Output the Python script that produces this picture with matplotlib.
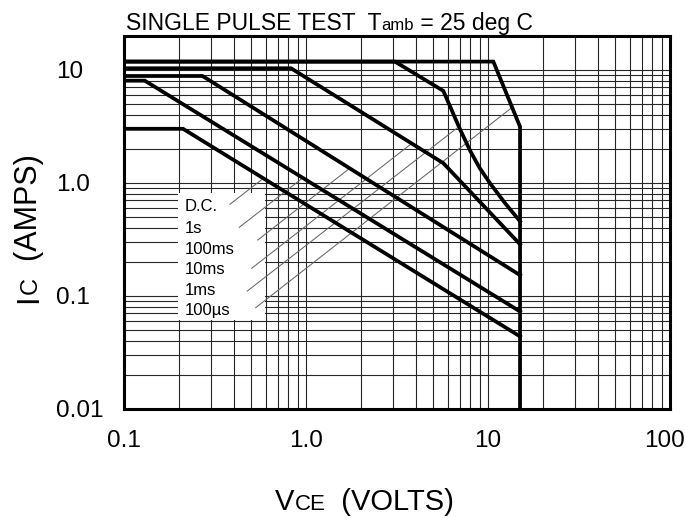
import matplotlib
matplotlib.use("Agg")
import matplotlib.pyplot as plt
from matplotlib import font_manager as fm
from matplotlib.patches import Rectangle
from matplotlib.ticker import NullFormatter
import matplotlib.transforms as mtrans

# ---------------- data ----------------
x_ticks = [0.1, 1, 10, 100]
x_tick_labels = ["0.1", "1.0", "10", "100"]
y_ticks = [0.01, 0.1, 1, 10]
y_tick_labels = ["0.01", "0.1", "1.0", "10"]

# safe operating area curves (VCE volts, IC amps)
us100_v = [0.1, 10.7, 15, 15]
us100_i = [11.8, 11.8, 3.13, 0.01]
ms1_v = [0.1, 3.08, 5.68, 6.1, 7.0, 8.0, 9.0, 10.3, 12.4, 15]
ms1_i = [11.8, 11.8, 6.5, 5.0, 3.0, 1.9, 1.35, 0.98, 0.66, 0.455]
ms10_v = [0.1, 0.827, 5.68, 15]
ms10_i = [10.3, 10.3, 1.49, 0.285]
ms100_v = [0.1, 0.27, 15]
ms100_i = [8.8, 8.8, 0.152]
s1_v = [0.1, 0.13, 15]
s1_i = [8.0, 8.0, 0.0725]
dc_v = [0.1, 0.211, 15]
dc_i = [3.0, 3.0, 0.0436]

curve_names = ["D.C.", "1s", "100ms", "10ms", "1ms", "100\u00b5s"]
label_y = [0.613, 0.395, 0.259, 0.1713, 0.1123, 0.0747]
label_x = 0.216
leader_start_x = [0.382, 0.430, 0.543, 0.503, 0.476, 0.529]
leader_start_y = [0.644, 0.403, 0.311, 0.1748, 0.110, 0.0783]
leader_end_x = [0.58, 0.952, 1.754, 3.815, 6.73, 13.5]
leader_end_y = [1.086, 1.092, 1.357, 2.23, 3.03, 4.61]
box_x = [0.199, 0.595]
box_y = [0.061, 0.806]

# ---------------- fonts ----------------
names = {f.name for f in fm.fontManager.ttflist}
BASE = "Liberation Sans" if "Liberation Sans" in names else "DejaVu Sans"

W, H = 685, 518
fig = plt.figure(figsize=(W / 100, H / 100), dpi=100)
ax = fig.add_axes([124 / W, 1 - 408.7 / H, 546 / W, (408.7 - 35.7) / H])
ax.set_xscale("log")
ax.set_yscale("log")
ax.set_xlim(0.1, 100)
ax.set_ylim(0.01, 20)

ax.set_axisbelow(True)
ax.grid(True, which="both", color="0.15", lw=0.8)
ax.tick_params(which="both", length=0)
ax.xaxis.set_minor_formatter(NullFormatter())
ax.yaxis.set_minor_formatter(NullFormatter())
ax.set_xticks(x_ticks, labels=x_tick_labels, fontsize=17.5, family=BASE)
ax.set_yticks(y_ticks, labels=y_tick_labels, fontsize=17.5, family=BASE)
ax.tick_params(axis="x", pad=15)
ax.tick_params(axis="y", pad=49)
for lab in ax.get_yticklabels():
    lab.set_ha("left")
xl = ax.get_xticklabels()
xl[-1].set_transform(xl[-1].get_transform() + mtrans.ScaledTranslation(-0.05, 0, fig.dpi_scale_trans))
for s in ax.spines.values():
    s.set_linewidth(2.2)
    s.set_zorder(6)

# white label box
ax.add_patch(Rectangle((box_x[0], box_y[0]), box_x[1] - box_x[0], box_y[1] - box_y[0],
                       facecolor="white", edgecolor="none", zorder=1))

curves = [(dc_v, dc_i), (s1_v, s1_i), (ms100_v, ms100_i), (ms10_v, ms10_i),
          (ms1_v, ms1_i), (us100_v, us100_i)]
for v, i in curves:
    ax.plot(v, i, color="black", lw=2.7, solid_joinstyle="miter", zorder=4)

for k, name in enumerate(curve_names):
    ax.text(label_x, label_y[k], name, fontsize=12, family=BASE, va="center", ha="left", zorder=3)
    ax.plot([leader_start_x[k], leader_end_x[k]], [leader_start_y[k], leader_end_y[k]],
            color="0.4", lw=0.75, zorder=2)


def chain(parts, x0, y0, rotation=0, family=BASE):
    prev = None
    for s, size in parts:
        if prev is None:
            prev = fig.text(x0 / W, y0 / H, s, fontsize=size, family=family, ha="left",
                            va="baseline", rotation=rotation, rotation_mode="anchor")
        else:
            if rotation == 0:
                xy, coords = (1, y0), (prev, "figure pixels")
            else:
                xy, coords = (x0, 1), ("figure pixels", prev)
            prev = ax.annotate(s, xy=xy, xycoords=coords, fontsize=size, family=family,
                               ha="left", va="baseline", rotation=rotation,
                               rotation_mode="anchor", annotation_clip=False)


chain([("SINGLE PULSE TEST  T", 16.5), ("amb", 12), (" = 25 deg C", 16.5)], 126, H - 30.0)
chain([("V", 21), ("CE", 16), ("  (VOLTS)", 21)], 275, H - 510)
chain([("I", 22), ("C", 17), ("  (AMPS)", 22)], 37, H - 303, rotation=90)

fig.savefig("out.png", dpi=100)
